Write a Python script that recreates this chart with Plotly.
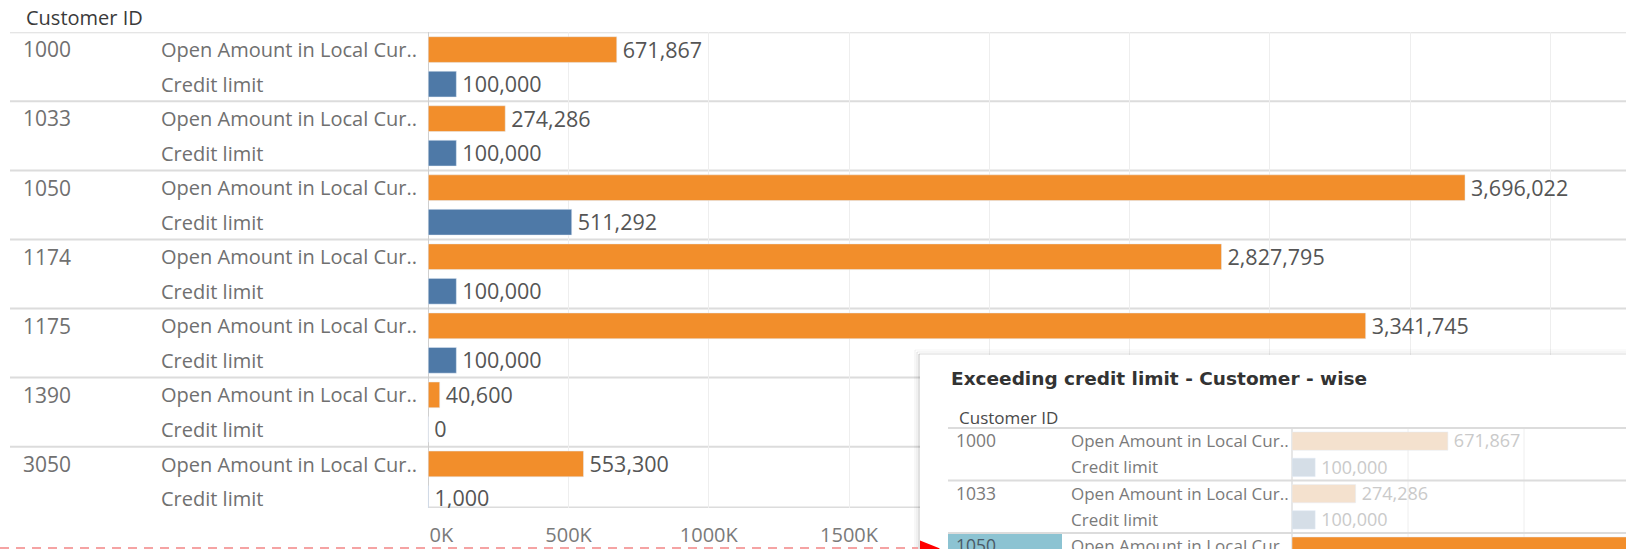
import plotly.graph_objects as go

# ---- data -------------------------------------------------------------
customer_ids = ["1000", "1033", "1050", "1174", "1175", "1390", "3050"]
open_amount = [671867, 274286, 3696022, 2827795, 3341745, 40600, 553300]
credit_limit = [100000, 100000, 511292, 100000, 100000, 0, 1000]
measure_names = ["Open Amount in Local Cur..", "Credit limit"]
x_tick_values = [0, 500000, 1000000, 1500000, 2000000, 2500000, 3000000, 3500000, 4000000]
x_tick_labels = ["0K", "500K", "1000K", "1500K"]
selected_customer = "1050"
dashboard_title = "Exceeding credit limit - Customer - wise"
row_header = "Customer ID"

# ---- page geometry (pixels) -------------------------------------------
W, H = 1626, 549
FONT = "Open Sans"
ORANGE, BLUE = "#F28E2B", "#4E79A7"
ORANGE_FADED, BLUE_FADED = "#F4E1CE", "#D5DEE7"
SEP_COLOR, GRID_COLOR, ZERO_COLOR = "#DCDCDC", "#EEEEEE", "#CFCFCF"


def py(p):
    """paper y from a pixel offset measured from the top"""
    return 1 - p / H


# main view: zero at x=428.3 px, 280.5 px per million, rows 34.53 px from y=32.3
M_ZERO, M_SCALE = 428.3, 280.5e-6
M_TOP, M_BOTTOM, M_ROW = 32.3, 508.0, 34.53


def mx(p):
    return (p - M_ZERO) / M_SCALE


# inset view: box from x=920, y=355; zero at 1292 px, 232 px per million, rows 26.25 px from y=428
I_LEFT, I_TOP = 920, 355
I_ZERO, I_SCALE = 1292, 232e-6
I_HEAD, I_ROW = 428, 26.25


def ix(p):
    return (p - I_ZERO) / I_SCALE


# ---- rows (one per customer and measure, top to bottom) -----------------
row_values, row_kind, row_cust = [], [], []
for cid, oa, cl in zip(customer_ids, open_amount, credit_limit):
    for kind, val in ((0, oa), (1, cl)):
        row_values.append(val)
        row_kind.append(kind)
        row_cust.append(cid)
row_pos = list(range(len(row_values)))
open_pos = [p for p, k in zip(row_pos, row_kind) if k == 0]
credit_pos = [p for p, k in zip(row_pos, row_kind) if k == 1]
measure_text = [measure_names[k] for k in row_kind]
value_text = [f"{v:,}" for v in row_values]

# text baselines sit a touch low in each row
M_TXT = 2.6 / M_ROW
I_TXT = 1.8 / I_ROW

# axis extents
m_ybottom = -0.5 + (M_BOTTOM - M_TOP) / M_ROW
i_ytop = -0.5 - (I_HEAD - I_TOP) / I_ROW
i_ybottom = -0.5 + (H - I_HEAD) / I_ROW
i_xmax = ix(W)

fig = go.Figure()

# ---- main view ----------------------------------------------------------
fig.add_trace(go.Bar(x=open_amount, y=open_pos, orientation="h", marker_color=ORANGE,
                     width=0.745, hoverinfo="skip", xaxis="x", yaxis="y"))
fig.add_trace(go.Bar(x=credit_limit, y=credit_pos, orientation="h", marker_color=BLUE,
                     width=0.745, hoverinfo="skip", xaxis="x", yaxis="y"))
fig.add_trace(go.Scatter(x=[v + 6 / M_SCALE for v in row_values],
                         y=[p + M_TXT for p in row_pos], mode="text",
                         text=value_text, textposition="middle right",
                         textfont=dict(family=FONT, size=21.5, color="#555555"),
                         hoverinfo="skip", xaxis="x", yaxis="y"))
fig.add_trace(go.Scatter(x=[mx(23)] * len(open_pos), y=[p + M_TXT for p in open_pos],
                         mode="text", text=customer_ids, textposition="middle right",
                         textfont=dict(family=FONT, size=21, color="#707070"),
                         hoverinfo="skip", xaxis="x", yaxis="y"))
fig.add_trace(go.Scatter(x=[mx(161)] * len(row_pos), y=[p + M_TXT for p in row_pos],
                         mode="text", text=measure_text, textposition="middle right",
                         textfont=dict(family=FONT, size=20, color="#707070"),
                         hoverinfo="skip", xaxis="x", yaxis="y"))

# ---- inset view (only the first rows fit in the box) ----------------------
faded = [c != selected_customer for c in customer_ids]
fig.add_trace(go.Bar(x=open_amount, y=open_pos, orientation="h",
                     marker_color=[ORANGE_FADED if f else ORANGE for f in faded],
                     width=0.70, hoverinfo="skip", xaxis="x3", yaxis="y3"))
fig.add_trace(go.Bar(x=credit_limit, y=credit_pos, orientation="h",
                     marker_color=[BLUE_FADED if f else BLUE for f in faded],
                     width=0.70, hoverinfo="skip", xaxis="x3", yaxis="y3"))

in_view = [p for p in row_pos if p - 0.5 < i_ybottom]
val_view = [p for p in in_view if row_values[p] + 6 / I_SCALE < i_xmax]
fig.add_trace(go.Scatter(x=[row_values[p] + 6 / I_SCALE for p in val_view],
                         y=[p + I_TXT for p in val_view], mode="text",
                         text=[value_text[p] for p in val_view], textposition="middle right",
                         textfont=dict(family=FONT, size=18,
                                       color=["#CACACA" if row_cust[p] != selected_customer
                                              else "#555555" for p in val_view]),
                         hoverinfo="skip", xaxis="x3", yaxis="y3"))
id_view = [(p, c) for p, c in zip(open_pos, customer_ids) if p in in_view]
fig.add_trace(go.Scatter(x=[ix(956)] * len(id_view), y=[p + I_TXT for p, _ in id_view],
                         mode="text", text=[c for _, c in id_view], textposition="middle right",
                         textfont=dict(family=FONT, size=17.5,
                                       color=["#7A7A7A" if c != selected_customer else "#4A5A66"
                                              for _, c in id_view]),
                         hoverinfo="skip", xaxis="x3", yaxis="y3"))
fig.add_trace(go.Scatter(x=[ix(1071)] * len(in_view), y=[p + I_TXT for p in in_view],
                         mode="text", text=[measure_text[p] for p in in_view],
                         textposition="middle right",
                         textfont=dict(family=FONT, size=17, color="#7A7A7A"),
                         hoverinfo="skip", xaxis="x3", yaxis="y3"))

# ---- axes ---------------------------------------------------------------
# labels beyond the listed ones stay blank (that part of the axis sits under the inset)
tick_text = list(x_tick_labels) + [""] * (len(x_tick_values) - len(x_tick_labels))
tick_text[0] = "\u00a0" * 5 + tick_text[0]

fig.update_layout(
    width=W, height=H, margin=dict(l=0, r=0, t=0, b=0),
    paper_bgcolor="white", plot_bgcolor="white", showlegend=False,
    barmode="overlay", font=dict(family=FONT),
    xaxis=dict(domain=[0, 1], range=[mx(0), mx(W)], tickvals=x_tick_values, ticktext=tick_text,
               showgrid=True, gridcolor=GRID_COLOR, gridwidth=1,
               zeroline=True, zerolinecolor=ZERO_COLOR, zerolinewidth=1,
               showline=False, ticks="", ticklabelstandoff=13,
               tickfont=dict(family=FONT, size=20, color="#7A7A7A"), fixedrange=True),
    yaxis=dict(domain=[py(M_BOTTOM), py(M_TOP)], range=[m_ybottom, -0.5], showticklabels=False,
               showgrid=False, zeroline=False, ticks="", fixedrange=True),
    xaxis3=dict(domain=[I_LEFT / W, 1], range=[ix(I_LEFT), i_xmax], anchor="y3",
                showgrid=False, zeroline=False, showticklabels=False, ticks="", fixedrange=True),
    yaxis3=dict(domain=[0, py(I_TOP)], anchor="x3", range=[i_ybottom, i_ytop],
                showticklabels=False, showgrid=False, zeroline=False, ticks="", fixedrange=True),
)

shapes = []
# main view: group separators and bottom rule
for g in range(len(customer_ids)):
    shapes.append(dict(type="line", xref="x", yref="y", layer="below",
                       x0=mx(10), x1=mx(W), y0=2 * g - 0.5, y1=2 * g - 0.5,
                       line=dict(color=SEP_COLOR, width=2)))
shapes.append(dict(type="line", xref="x", yref="y", layer="below",
                   x0=0, x1=mx(W), y0=m_ybottom, y1=m_ybottom,
                   line=dict(color=SEP_COLOR, width=3)))

# inset view: selection highlight, grid, zero rule and separators
sel = customer_ids.index(selected_customer)
shapes.append(dict(type="rect", xref="x3", yref="y3", layer="below",
                   x0=ix(948), x1=ix(1062), y0=2 * sel - 0.5, y1=2 * sel + 1.5,
                   fillcolor="#8CC3D2", line=dict(width=0)))
for t in x_tick_values:
    if 0 < t < i_xmax:
        shapes.append(dict(type="line", xref="x3", yref="y3", layer="below",
                           x0=t, x1=t, y0=-0.5, y1=i_ybottom,
                           line=dict(color=GRID_COLOR, width=1)))
shapes.append(dict(type="line", xref="x3", yref="y3", layer="below",
                   x0=0, x1=0, y0=-0.5, y1=i_ybottom, line=dict(color=ZERO_COLOR, width=1)))
for g in range(len(customer_ids)):
    shapes.append(dict(type="line", xref="x3", yref="y3", layer="below",
                       x0=ix(948), x1=i_xmax, y0=2 * g - 0.5, y1=2 * g - 0.5,
                       line=dict(color=SEP_COLOR, width=2)))

# inset drop shadow along the left and top edges
for off, alpha in ((1, 0.12), (3, 0.06), (5, 0.03)):
    shapes.append(dict(type="line", xref="paper", yref="paper", layer="above",
                       x0=(I_LEFT - off) / W, x1=(I_LEFT - off) / W, y0=0, y1=py(I_TOP - off),
                       line=dict(color=f"rgba(0,0,0,{alpha})", width=2)))
    shapes.append(dict(type="line", xref="paper", yref="paper", layer="above",
                       x0=(I_LEFT - off) / W, x1=1, y0=py(I_TOP - off), y1=py(I_TOP - off),
                       line=dict(color=f"rgba(0,0,0,{alpha * 0.6})", width=2)))

# red dashed pointer with arrow head
shapes.append(dict(type="line", xref="paper", yref="paper", layer="above",
                   x0=0, x1=918 / W, y0=py(548), y1=py(548),
                   line=dict(color="#F5A3A3", width=2, dash="9px,7px")))
shapes.append(dict(type="path", xref="paper", yref="paper", layer="above",
                   path=f"M {920 / W},{py(540.5)} L {940 / W},{py(548.5)} L {920 / W},{py(556.5)} Z",
                   fillcolor="#FF0000", line=dict(width=0)))
fig.update_layout(shapes=shapes)

fig.update_layout(annotations=[
    dict(text=row_header, xref="paper", yref="paper", x=24 / W, y=py(17),
         xanchor="left", yanchor="middle", showarrow=False,
         font=dict(family=FONT, size=20, color="#3A3A3A")),
    dict(text=dashboard_title, xref="paper", yref="paper", x=949 / W, y=py(378),
         xanchor="left", yanchor="middle", showarrow=False,
         font=dict(family="DejaVu Sans", size=18.5, color="#333333", weight="bold")),
    dict(text=row_header, xref="paper", yref="paper", x=957 / W, y=py(417),
         xanchor="left", yanchor="middle", showarrow=False,
         font=dict(family=FONT, size=17, color="#4A4A4A")),
])

fig.write_html("out.html")
